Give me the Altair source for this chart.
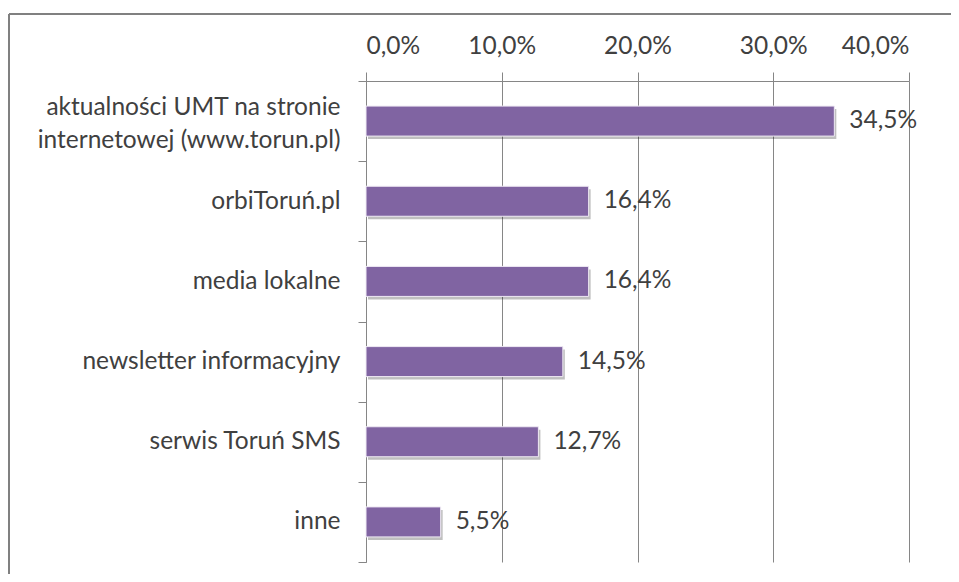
import altair as alt
import pandas as pd

categories = [
    "aktualności UMT na stronie internetowej (www.torun.pl)",
    "orbiToruń.pl",
    "media lokalne",
    "newsletter informacyjny",
    "serwis Toruń SMS",
    "inne",
]
values = [34.5, 16.4, 16.4, 14.5, 12.7, 5.5]
tick_values = [0, 10, 20, 30, 40]
first_label_lines = ["aktualności UMT na stronie", "internetowej (www.torun.pl)"]

df = pd.DataFrame({"category": categories, "value": values})
df["label"] = [f"{v:.1f}".replace(".", ",") + "%" for v in values]

FONT = "Lato"
FS = 24.5
TEXT = "#404040"
GRID = "#868686"
BAR = "#8064A2"

label_expr = (
    f"datum.label == '{categories[0]}' ? "
    f"['{first_label_lines[0]}', '{first_label_lines[1]}'] : datum.label"
)

y = alt.Y(
    "category:N",
    sort=categories,
    scale=alt.Scale(paddingInner=0, paddingOuter=0),
    axis=alt.Axis(
        title=None,
        tickBand="extent",
        tickSize=8,
        tickColor=GRID,
        domainColor=GRID,
        labelPadding=18,
        labelFont=FONT,
        labelFontSize=FS,
        labelColor=TEXT,
        labelLineHeight=33,
        labelLimit=0,
        labelExpr=label_expr,
        labelOffset={
            "condition": {"test": f"datum.value == '{categories[0]}'", "value": -14},
            "value": 0,
        },
        grid=False,
    ),
)
x = alt.X(
    "value:Q",
    scale=alt.Scale(domain=[0, 40], nice=False),
    axis=alt.Axis(
        orient="top",
        values=tick_values,
        title=None,
        tickSize=9,
        tickColor=GRID,
        domainColor=GRID,
        grid=True,
        gridColor=GRID,
        gridOpacity=1,
        labelExpr="replace(format(datum.value, '.1f'), '.', ',') + '%'",
        labelFont=FONT,
        labelFontSize=FS,
        labelColor=TEXT,
        labelPadding=14,
    ),
)

base = alt.Chart(df)
shadow = base.mark_bar(size=30, color="#000000", opacity=0.25, xOffset=2, yOffset=3).encode(x=x, y=y)
bars = base.mark_bar(size=30, color=BAR, stroke="#efeaf4", strokeWidth=1).encode(x=x, y=y)
texts = base.mark_text(align="left", baseline="middle", dx=15, font=FONT, fontSize=FS, color=TEXT).encode(
    x="value:Q", y=alt.Y("category:N", sort=categories), text="label:N"
)

frame_df = pd.DataFrame({"k": [0]})
frame_left = alt.Chart(frame_df).mark_rule(color="#808080", strokeWidth=2).encode(
    x=alt.value(-357), y=alt.value(-67), y2=alt.value(520)
)
frame_top = alt.Chart(frame_df).mark_rule(color="#808080", strokeWidth=2).encode(
    y=alt.value(-67), x=alt.value(-357), x2=alt.value(620)
)

chart = (
    alt.layer(shadow, bars, texts, frame_left, frame_top)
    .properties(
        width=543,
        height=481,
        padding={"left": 358, "top": 73, "right": 42, "bottom": 12},
        autosize=alt.AutoSizeParams(type="none"),
    )
    .configure_view(stroke=None)
)

chart.save("out.html", embed_options={"renderer": "svg", "actions": False})
